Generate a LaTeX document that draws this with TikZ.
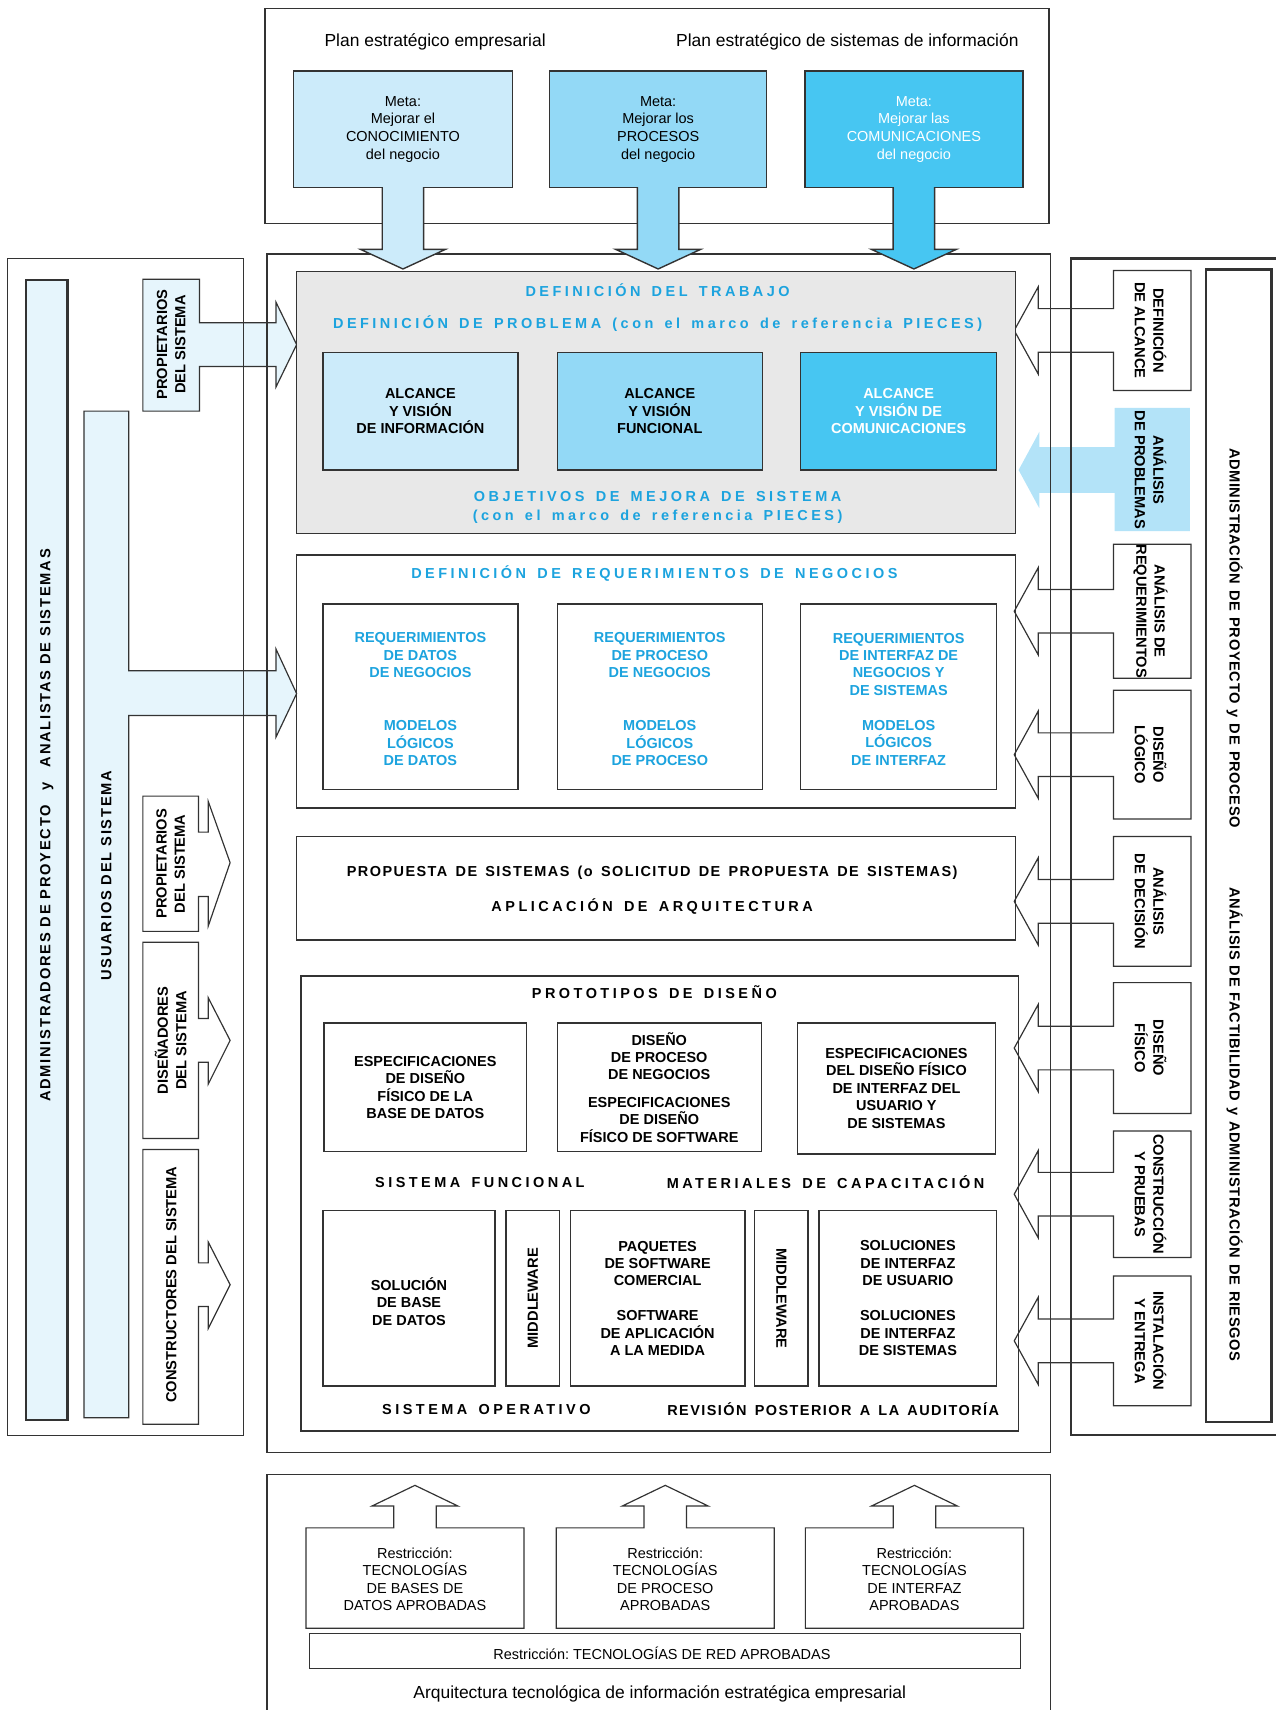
\documentclass[tikz,border=0pt]{standalone}
\usepackage{fontspec}
\setmainfont{Liberation Sans}
\newfontfamily\widefont{Liberation Sans}[LetterSpace=24, WordSpace=1.5]
\newfontfamily\semiwidefont{Liberation Sans}[LetterSpace=10, WordSpace=1.5]
\newfontfamily\barfont{Liberation Sans}[LetterSpace=4, WordSpace=1.3]
\newfontfamily\sidefont{Liberation Sans}[LetterSpace=12]
\usetikzlibrary{fit,calc}
\definecolor{goalA}{HTML}{CCEBFA}
\definecolor{goalB}{HTML}{93D9F6}
\definecolor{goalC}{HTML}{47C6F2}
\definecolor{probfill}{HTML}{B3E3F8}
\definecolor{palebar}{HTML}{E6F5FC}
\definecolor{workgray}{HTML}{E8E8E8}
\definecolor{cyantxt}{HTML}{1CA3DE}
\definecolor{edge}{HTML}{333333}

\begin{document}
\frenchspacing
\begin{tikzpicture}[x=0.55pt, y=-0.55pt,
  frame/.style={draw=edge, line width=0.7pt, inner sep=0pt},
  heavy/.style={draw=edge, line width=1.2pt, inner sep=0pt},
  box/.style={draw=edge, line width=0.7pt, inner sep=0pt},
  txt/.style={align=center, inner sep=0pt, font=\fontsize{7.3}{8.8}\selectfont\bfseries},
  goaltxt/.style={txt, font=\fontsize{7.3}{8.9}\selectfont},
  reqtxt/.style={txt, text=cyantxt},
  plan/.style={font=\fontsize{8.8}{10.5}\selectfont},
  restr/.style={align=center, font=\fontsize{7.3}{8.8}\selectfont},
  ttl/.style={text=cyantxt, font=\widefont\fontsize{7.3}{9}\selectfont\bfseries},
  spaced/.style={font=\widefont\fontsize{7.3}{9}\selectfont\bfseries},
  semispaced/.style={font=\semiwidefont\fontsize{7.3}{9}\selectfont\bfseries},
  vlbl/.style={align=center, inner sep=0pt, font=\fontsize{7.4}{9.3}\selectfont\bfseries},
  vbar/.style={inner sep=0pt, font=\barfont\fontsize{7.4}{9.3}\selectfont\bfseries},
  vspaced/.style={inner sep=0pt, font=\sidefont\fontsize{7.4}{9.3}\selectfont\bfseries},
  blk/.style={draw=edge, line width=0.6pt},
  goalarrow/.style={draw=edge, line width=0.7pt}
]
\useasboundingbox (0,0) rectangle (1170,1568);

% left side: roles
\node[heavy, fill=palebar, fit={(24,257) (62,1302)}] (adminbar) {};
\node[vspaced, rotate=90] (admint) at (43,757) {ADMINISTRADORES DE PROYECTO\quad y\quad ANALISTAS DE SISTEMAS};
\draw[blk, fill=palebar] (77,1300) -- (77,377) -- (118,377) -- (118,615) -- (253,615) -- (253,595) -- (272,636) -- (253,676) -- (253,656) -- (118,656) -- (118,1300) -- cycle;
\node[vspaced, rotate=90] (usuarios) at (97.5,803) {USUARIOS DEL SISTEMA};
\draw[blk, fill=palebar] (131,377) -- (131,256) -- (183,256) -- (183,296) -- (253,296) -- (253,277) -- (272,316) -- (253,355) -- (253,336) -- (183,336) -- (183,377) -- cycle;
\node[vlbl, rotate=90] (owners) at (157,316) {PROPIETARIOS\\DEL SISTEMA};
\draw[blk] (131,854) -- (131,730) -- (182,730) -- (182,763) -- (191,763) -- (191,735) -- (211,791) -- (191,849) -- (191,822) -- (182,822) -- (182,854) -- cycle;
\node[vlbl, rotate=90] (owners2) at (156.5,792) {PROPIETARIOS\\DEL SISTEMA};
\draw[blk] (131,1044) -- (131,864) -- (182,864) -- (182,934) -- (191,934) -- (191,915) -- (211,954) -- (191,994) -- (191,974) -- (182,974) -- (182,1044) -- cycle;
\node[vlbl, rotate=90] (designers) at (156.5,954) {DISEÑADORES\\DEL SISTEMA};
\draw[blk] (131,1306) -- (131,1054) -- (182,1054) -- (182,1158) -- (191,1158) -- (191,1139) -- (211,1178) -- (191,1218) -- (191,1198) -- (182,1198) -- (182,1306) -- cycle;
\node[vlbl, rotate=90] (builders) at (157,1178) {CONSTRUCTORES DEL SISTEMA};

% right side: phases
\foreach \t/\b/\lbl [count=\i] in {248/358/{DEFINICIÓN\\DE ALCANCE}, 499/622/{ANÁLISIS DE\\REQUERIMIENTOS}, 633/751/{DISEÑO\\LÓGICO}, 767/886/{ANÁLISIS\\DE DECISIÓN}, 901/1021/{DISEÑO\\FÍSICO}, 1037/1153/{CONSTRUCCIÓN\\Y PRUEBAS}, 1170/1289/{INSTALACIÓN\\Y ENTREGA}} {
  \pgfmathsetmacro\ym{(\t+\b)/2}
  \draw[blk, fill=white] (1092,\t) -- (1021,\t) -- (1021,{\ym-20}) -- (952,{\ym-20}) -- (952,{\ym-40}) -- (930,\ym) -- (952,{\ym+40}) -- (952,{\ym+20}) -- (1021,{\ym+20}) -- (1021,\b) -- (1092,\b) -- cycle;
  \node[vlbl, rotate=-90] (phase\i) at (1055,\ym) {\lbl};
}
\fill[probfill] (1091,374) -- (1022,374) -- (1022,410) -- (953,410) -- (953,396) -- (934,431) -- (953,466) -- (953,452) -- (1022,452) -- (1022,487) -- (1091,487) -- cycle;
\node[vlbl, rotate=-90] (problems) at (1055,431) {ANÁLISIS\\DE PROBLEMAS};

% frames
\draw[frame] (7,237) rectangle (223,1316);
\draw[frame] (245,233) rectangle (963,1332);
\draw[heavy] (1170,237) -- (982,237) -- (982,1316) -- (1170,1316);
\node[heavy, fill=white, fit={(1106,247) (1166,1304)}] (mgmtbar) {};
\node[vbar, rotate=-90] (mgmt1) at (1132,585) {ADMINISTRACIÓN DE PROYECTO y DE PROCESO};
\node[vbar, rotate=-90] (mgmt2) at (1132,1031) {ANÁLISIS DE FACTIBILIDAD y ADMINISTRACIÓN DE RIESGOS};

% strategic plans
\draw[frame] (243,8) rectangle (962,205);
\node[plan] (bizplan) at (399,38) {Plan estratégico empresarial};
\node[plan] (isplan) at (777,38) {Plan estratégico de sistemas de información};
\node[box, fill=goalA, fit={(269,65) (470,172)}] (goalknow) {};
\node[box, fill=goalB, fit={(504,65) (703,172)}] (goalproc) {};
\node[box, fill=goalC, fit={(738,65) (938,172)}] (goalcomm) {};
\node[goaltxt] (goalknowt) at (goalknow.center) {Meta:\\Mejorar el\\CONOCIMIENTO\\del negocio};
\node[goaltxt] (goalproct) at (goalproc.center) {Meta:\\Mejorar los\\PROCESOS\\del negocio};
\node[goaltxt, text=white] (goalcommt) at (goalcomm.center) {Meta:\\Mejorar las\\COMUNICACIONES\\del negocio};
\draw[goalarrow, fill=goalA] ($(goalknow.south)+(-19,-1)$) -- ++(0,57) -- ++(-20,0) -- ++(39,18) -- ++(39,-18) -- ++(-20,0) -- ++(0,-57);
\draw[goalarrow, fill=goalB] ($(goalproc.south)+(-19,-1)$) -- ++(0,57) -- ++(-20,0) -- ++(39,18) -- ++(39,-18) -- ++(-20,0) -- ++(0,-57);
\draw[goalarrow, fill=goalC] ($(goalcomm.south)+(-19,-1)$) -- ++(0,57) -- ++(-20,0) -- ++(39,18) -- ++(39,-18) -- ++(-20,0) -- ++(0,-57);

% work definition
\node[frame, fill=workgray, fit={(272,249) (931,489)}] (work) {};
\node[ttl] (worktitle) at (603,266) {DEFINICIÓN DEL TRABAJO};
\node[ttl] (problem) at (603,297) {DEFINICIÓN DE PROBLEMA (con el marco de referencia PIECES)};
\node[box, fill=goalA, fit={(296,323) (475,431)}] (scopeinfo) {};
\node[box, fill=goalB, fit={(511,323) (699,431)}] (scopefunc) {};
\node[box, fill=goalC, fit={(734,323) (914,431)}] (scopecomm) {};
\node[txt] (scopeinfot) at (scopeinfo.center) {ALCANCE\\Y VISIÓN\\DE INFORMACIÓN};
\node[txt] (scopefunct) at (scopefunc.center) {ALCANCE\\Y VISIÓN\\FUNCIONAL};
\node[txt, text=white] (scopecommt) at (scopecomm.center) {ALCANCE\\Y VISIÓN DE\\COMUNICACIONES};
\node[ttl] (goals) at (603,455) {OBJETIVOS DE MEJORA DE SISTEMA};
\node[ttl] (goalsref) at (603,474) {(con el marco de referencia PIECES)};

% business requirements
\node[frame, fit={(272,509) (931,741)}] (reqs) {};
\node[ttl] (reqstitle) at (600,526) {DEFINICIÓN DE REQUERIMIENTOS DE NEGOCIOS};
\node[box, fit={(296,554) (475,724)}] (reqdata) {};
\node[box, fit={(511,554) (699,724)}] (reqproc) {};
\node[box, fit={(734,554) (914,724)}] (reqintf) {};
\node[reqtxt] (reqdatat) at ([yshift=-1.1pt]reqdata.center) {REQUERIMIENTOS\\DE DATOS\\DE NEGOCIOS\\[18pt]MODELOS\\LÓGICOS\\DE DATOS};
\node[reqtxt] (reqproct) at ([yshift=-1.1pt]reqproc.center) {REQUERIMIENTOS\\DE PROCESO\\DE NEGOCIOS\\[18pt]MODELOS\\LÓGICOS\\DE PROCESO};
\node[reqtxt] (reqintft) at ([yshift=-1.1pt]reqintf.center) {REQUERIMIENTOS\\DE INTERFAZ DE\\NEGOCIOS Y\\DE SISTEMAS\\[8.8pt]MODELOS\\LÓGICOS\\DE INTERFAZ};

% proposal
\node[frame, fit={(272,767) (931,862)}] (proposal) {};
\node[semispaced] (proposalt) at (598,800) {PROPUESTA DE SISTEMAS (o SOLICITUD DE PROPUESTA DE SISTEMAS)};
\node[spaced] (archapp) at (598,831) {APLICACIÓN DE ARQUITECTURA};

% design prototypes
\node[frame, fit={(276,895) (934,1312)}] (proto) {};
\node[spaced] (prototitle) at (600,910) {PROTOTIPOS DE DISEÑO};
\node[box, fit={(297,938) (483,1056)}] (dbspec) {};
\node[box, fit={(511,938) (698,1056)}] (swspec) {};
\node[box, fit={(731,938) (913,1058)}] (uispec) {};
\node[txt] (dbspect) at (dbspec.center) {ESPECIFICACIONES\\DE DISEÑO\\FÍSICO DE LA\\BASE DE DATOS};
\node[txt] (swspect) at (swspec.center) {DISEÑO\\DE PROCESO\\DE NEGOCIOS\\[5pt]ESPECIFICACIONES\\DE DISEÑO\\FÍSICO DE SOFTWARE};
\node[txt] (uispect) at (uispec.center) {ESPECIFICACIONES\\DEL DISEÑO FÍSICO\\DE INTERFAZ DEL\\USUARIO Y\\DE SISTEMAS};
\node[spaced] (funcsys) at (440,1084) {SISTEMA FUNCIONAL};
\node[spaced] (training) at (757,1084) {MATERIALES DE CAPACITACIÓN};
\node[box, fit={(296,1110) (454,1271)}] (dbsol) {};
\node[box, fit={(464,1110) (513,1271)}] (mwleft) {};
\node[box, fit={(523,1110) (683,1271)}] (packages) {};
\node[box, fit={(692,1110) (741,1271)}] (mwright) {};
\node[box, fit={(751,1110) (914,1271)}] (intfsol) {};
\node[txt] (dbsolt) at ([yshift=-1.5pt]dbsol.center) {SOLUCIÓN\\DE BASE\\DE DATOS};
\node[vlbl, rotate=90] (mwleftt) at (mwleft.center) {MIDDLEWARE};
\node[txt] (packagest) at (packages.center) {PAQUETES\\DE SOFTWARE\\COMERCIAL\\[8.8pt]SOFTWARE\\DE APLICACIÓN\\A LA MEDIDA};
\node[vlbl, rotate=-90] (mwrightt) at (mwright.center) {MIDDLEWARE};
\node[txt] (intfsolt) at (intfsol.center) {SOLUCIONES\\DE INTERFAZ\\DE USUARIO\\[8.8pt]SOLUCIONES\\DE INTERFAZ\\DE SISTEMAS};
\node[spaced] (opsys) at (446,1292) {SISTEMA OPERATIVO};
\node[semispaced] (audit) at (764,1292) {REVISIÓN POSTERIOR A LA AUDITORÍA};

% technology architecture
\draw[frame] (245,1568) -- (245,1352) -- (963,1352) -- (963,1568);
\foreach \cx/\lbl [count=\i] in {380.5/{Restricción:\\TECNOLOGÍAS\\DE BASES DE\\DATOS APROBADAS}, 610/{Restricción:\\TECNOLOGÍAS\\DE PROCESO\\APROBADAS}, 838.5/{Restricción:\\TECNOLOGÍAS\\DE INTERFAZ\\APROBADAS}} {
  \draw[blk] ({\cx-100},1493) -- ({\cx-100},1401) -- ({\cx-19.5},1401) -- ({\cx-19.5},1381) -- ({\cx-39.5},1381) -- (\cx,1362) -- ({\cx+39.5},1381) -- ({\cx+19.5},1381) -- ({\cx+19.5},1401) -- ({\cx+100},1401) -- ({\cx+100},1493) -- cycle;
  \node[restr] (restr\i) at (\cx,1448) {\lbl};
}
\node[frame, fit={(284,1498) (936,1530)}] (network) {};
\node[restr] (networkt) at (607,1516) {Restricción: TECNOLOGÍAS DE RED APROBADAS};
\node[plan] (techarch) at (605,1553) {Arquitectura tecnológica de información estratégica empresarial};
\end{tikzpicture}
\end{document}
